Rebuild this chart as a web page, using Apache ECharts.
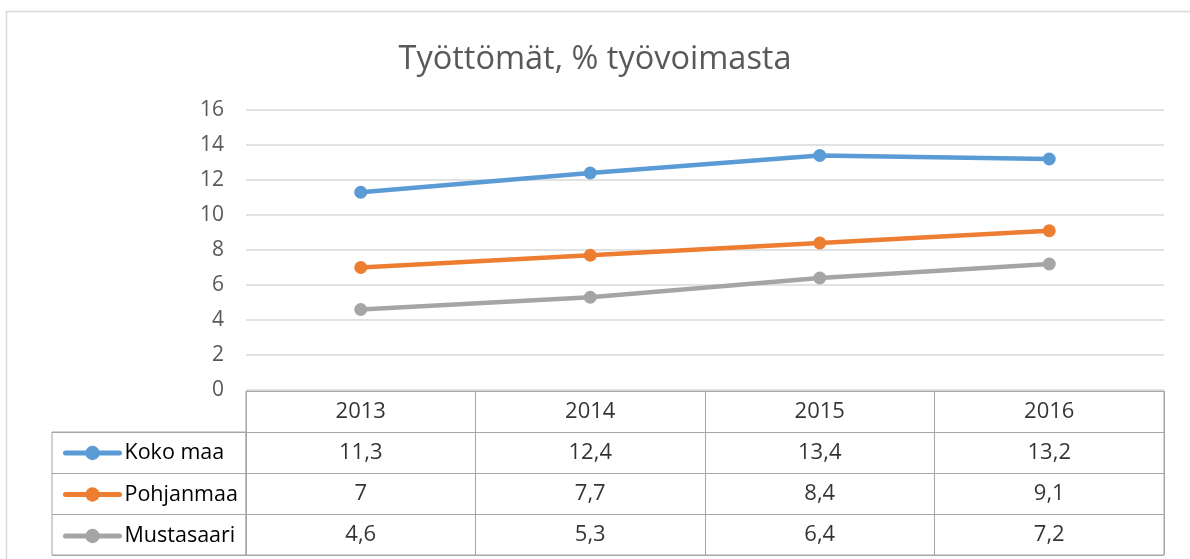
<!DOCTYPE html>
<html>
<head>
<meta charset="utf-8">
<script src="https://cdn.jsdelivr.net/npm/echarts@6/dist/echarts.min.js"></script>
<style>
  html, body { margin: 0; padding: 0; background: #fff; }
  #chart { width: 1190px; height: 559px; }
</style>
</head>
<body>
<div id="chart"></div>
<script>
var years = ['2013', '2014', '2015', '2016'];
var seriesNames = ['Koko maa', 'Pohjanmaa', 'Mustasaari'];
var kokoMaa = [11.3, 12.4, 13.4, 13.2];
var pohjanmaa = [7, 7.7, 8.4, 9.1];
var mustasaari = [4.6, 5.3, 6.4, 7.2];
var colors = ['#5B9BD5', '#ED7D31', '#A5A5A5'];

var values = [kokoMaa, pohjanmaa, mustasaari];
var rows = ['head'].concat(seriesNames);
var font = 'Open Sans';

function fmt(v) {
    return String(v).replace('.', ',');
}

// cells of the data table: header row with years, then one row per series
var cells = [];
years.forEach(function (y, i) {
    cells.push({ value: [i, 0], txt: y });
});
values.forEach(function (arr, s) {
    arr.forEach(function (v, i) {
        cells.push({ value: [i, s + 1], txt: fmt(v) });
    });
});

var lineSeries = values.map(function (arr, s) {
    return {
        name: seriesNames[s],
        type: 'line',
        data: arr,
        xAxisIndex: 0,
        yAxisIndex: 0,
        symbol: 'circle',
        symbolSize: 13,
        lineStyle: { width: 4.5, color: colors[s] },
        itemStyle: { color: colors[s] }
    };
});

var chart = echarts.init(document.getElementById('chart'));
chart.setOption({
    animation: false,
    title: {
        text: 'Työttömät, % työvoimasta',
        left: 'center',
        top: 38,
        textStyle: { fontFamily: font, fontSize: 32.5, fontWeight: 'normal', color: '#595959' }
    },
    graphic: [{
        type: 'rect',
        shape: { x: 6.5, y: 11.5, width: 1300, height: 700 },
        style: { fill: 'none', stroke: '#d9d9d9', lineWidth: 1.5 },
        silent: true
    }],
    legend: {
        data: seriesNames,
        orient: 'vertical',
        left: 58,
        top: 437,
        itemGap: 19.5,
        itemWidth: 54,
        itemHeight: 18,
        lineStyle: { width: 5, cap: 'round' },
        textStyle: { fontFamily: font, fontSize: 21.5, lineHeight: 22, color: '#000' },
        selectedMode: false
    },
    grid: [
        { left: 246, right: 26, top: 110, height: 280 },
        { left: 246, right: 26, top: 391, bottom: 4, show: true, borderColor: '#a6a6a6', borderWidth: 1 },
        { left: 52, right: 944, top: 432, bottom: 4, show: true, borderColor: '#a6a6a6', borderWidth: 1 }
    ],
    xAxis: [
        { type: 'category', gridIndex: 0, data: years, boundaryGap: true,
          axisLine: { show: false }, axisTick: { show: false }, axisLabel: { show: false } },
        { type: 'category', gridIndex: 1, data: years, boundaryGap: true,
          axisLine: { show: false }, axisTick: { show: false }, axisLabel: { show: false },
          splitLine: { show: true, lineStyle: { color: '#a6a6a6', width: 1 } } },
        { type: 'value', gridIndex: 2, show: false }
    ],
    yAxis: [
        { type: 'value', gridIndex: 0, min: 0, max: 16, interval: 2,
          axisLine: { show: false }, axisTick: { show: false },
          axisLabel: { fontFamily: font, fontSize: 21, color: '#595959', margin: 22 },
          splitLine: { lineStyle: { color: '#d9d9d9', width: 1.5 } } },
        { type: 'category', gridIndex: 1, data: rows, inverse: true, boundaryGap: true,
          axisLine: { show: false }, axisTick: { show: false }, axisLabel: { show: false },
          splitLine: { show: true, lineStyle: { color: '#a6a6a6', width: 1 } } },
        { type: 'category', gridIndex: 2, data: seriesNames, inverse: true, boundaryGap: true,
          axisLine: { show: false }, axisTick: { show: false }, axisLabel: { show: false },
          splitLine: { show: true, lineStyle: { color: '#a6a6a6', width: 1 } } }
    ],
    series: lineSeries.concat([{
        name: 'table',
        type: 'scatter',
        xAxisIndex: 1,
        yAxisIndex: 1,
        symbolSize: 0,
        silent: true,
        data: cells,
        label: {
            show: true,
            position: 'inside',
            fontFamily: font,
            fontSize: 22,
            color: '#000',
            formatter: function (p) { return p.data.txt; }
        }
    }])
});
</script>
</body>
</html>
